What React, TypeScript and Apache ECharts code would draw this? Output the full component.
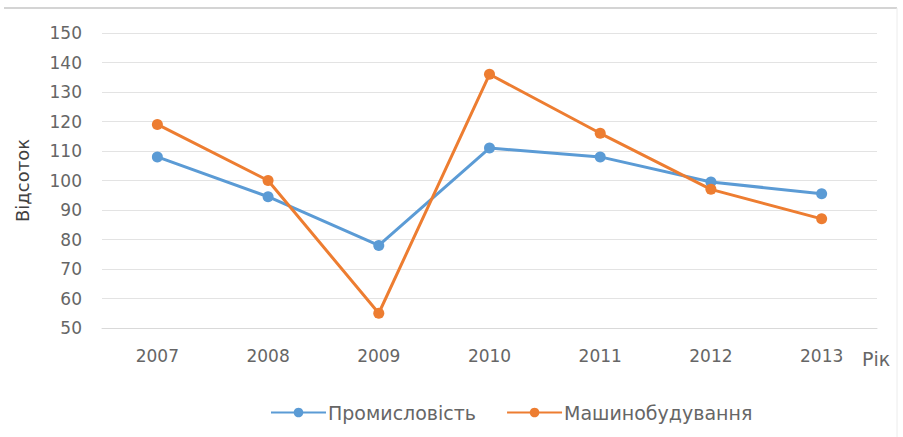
import React, { useEffect, useRef } from "react";
import * as echarts from "echarts";

const categories = ["2007", "2008", "2009", "2010", "2011", "2012", "2013"];
const industry = [108, 94.5, 78, 111, 108, 99.5, 95.5];
const machinery = [119, 100, 55, 136, 116, 97, 87];
const seriesNames = ["Промисловість", "Машинобудування"];
const yAxisTitle = "Відсоток";
const xAxisTitle = "Рік";

const FONT = "'DejaVu Sans', 'Open Sans', sans-serif";
const GRAY = "#666666";

export default function App() {
  const ref = useRef<HTMLDivElement>(null);
  useEffect(() => {
    if (!ref.current) return;
    const chart = echarts.init(ref.current, undefined, { renderer: "svg" });
    chart.setOption({
      animation: false,
      backgroundColor: "#ffffff",
      textStyle: { fontFamily: FONT },
      grid: { left: 102, right: 26, top: 33, bottom: 109 },
      legend: {
        left: 265,
        top: 398,
        itemWidth: 55,
        itemHeight: 12,
        itemGap: 30,
        textStyle: { color: GRAY, fontSize: 19, fontFamily: FONT, padding: [0, 0, 0, -3] },
        data: seriesNames,
      },
      xAxis: {
        type: "category",
        data: categories,
        boundaryGap: true,
        axisLine: { show: true, lineStyle: { color: "#d9d9d9", width: 1 } },
        axisTick: { show: false },
        axisLabel: { color: GRAY, fontSize: 17, margin: 19, fontFamily: FONT },
      },
      yAxis: {
        type: "value",
        min: 50,
        max: 150,
        interval: 10,
        name: yAxisTitle,
        nameLocation: "middle",
        nameRotate: 90,
        nameGap: 71,
        nameTextStyle: { color: "#404040", fontSize: 18, fontFamily: FONT },
        axisLine: { show: false },
        axisTick: { show: false },
        axisLabel: { color: GRAY, fontSize: 17, margin: 20, fontFamily: FONT },
        splitLine: { lineStyle: { color: "#e3e3e3", width: 1 } },
      },
      graphic: [
        {
          type: "text",
          left: 862,
          top: 349,
          style: { text: xAxisTitle, fill: GRAY, fontSize: 19, fontFamily: FONT },
        },
        {
          type: "line",
          shape: { x1: 4, y1: 8, x2: 897, y2: 8 },
          style: { stroke: "#d4d4d4", lineWidth: 2 },
        },
        {
          type: "line",
          shape: { x1: 897, y1: 8, x2: 897, y2: 437 },
          style: { stroke: "#ececec", lineWidth: 1 },
        },
      ],
      series: [
        {
          name: seriesNames[0],
          type: "line",
          data: industry,
          symbol: "circle",
          symbolSize: 11,
          lineStyle: { color: "#5B9BD5", width: 3 },
          itemStyle: { color: "#5B9BD5" },
        },
        {
          name: seriesNames[1],
          type: "line",
          data: machinery,
          symbol: "circle",
          symbolSize: 11,
          lineStyle: { color: "#ED7D31", width: 3 },
          itemStyle: { color: "#ED7D31" },
        },
      ],
    });
    return () => chart.dispose();
  }, []);
  return <div ref={ref} style={{ width: 903, height: 437, position: "absolute", left: 0, top: 0 }} />;
}
